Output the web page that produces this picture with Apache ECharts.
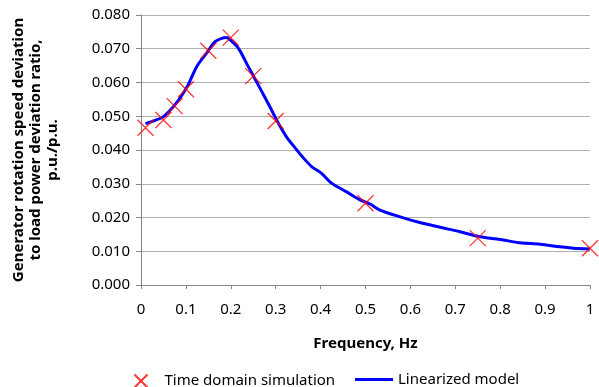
<!DOCTYPE html>
<html><head><meta charset="utf-8">
<script src="https://cdn.jsdelivr.net/npm/echarts@6/dist/echarts.min.js"></script>
<style>html,body{margin:0;padding:0;background:#fff}#c{width:599px;height:387px}</style>
</head><body><div id="c"></div>
<script>
const freqModel = [0.01,0.03,0.05,0.072,0.09,0.105,0.124,0.146,0.165,0.18,0.19,0.198,0.217,0.239,0.261,0.287,0.306,0.324,0.347,0.358,0.38,0.402,0.425,0.458,0.488,0.51,0.532,0.577,0.621,0.666,0.71,0.755,0.8,0.844,0.889,0.933,0.963,1.0];
const valModel  = [0.0478,0.0487,0.0499,0.0528,0.0560,0.0593,0.0647,0.0687,0.0721,0.0731,0.0733,0.0727,0.0701,0.0647,0.0593,0.0528,0.0479,0.0439,0.0400,0.0382,0.0351,0.0331,0.0301,0.0276,0.0252,0.0240,0.0222,0.0202,0.0185,0.0171,0.0158,0.0143,0.0135,0.0125,0.0121,0.0113,0.0109,0.0107];
const freqSim = [0.01,0.05,0.075,0.1,0.15,0.2,0.25,0.3,0.5,0.75,1.0];
const valSim  = [0.0466,0.0489,0.053,0.058,0.0694,0.0733,0.0619,0.0486,0.0242,0.0139,0.0109];
const xTicks = [0,0.1,0.2,0.3,0.4,0.5,0.6,0.7,0.8,0.9,1];
const yTicks = [0,0.01,0.02,0.03,0.04,0.05,0.06,0.07,0.08];
const simName = 'Time domain simulation';
const modelName = 'Linearized model';
const xName = 'Frequency, Hz';
const yName = 'Generator rotation speed deviation\nto load power deviation ratio,\np.u./p.u.';

const FONT = 'Noto Sans';
const xPath = 'path://M0,0L10,10M10,0L0,10';
const chart = echarts.init(document.getElementById('c'));
chart.setOption({
  animation: false,
  textStyle: {fontFamily: FONT},
  grid: {left: 141, right: 9, top: 15, bottom: 102},
  xAxis: {
    type: 'value', min: 0, max: 1, interval: 0.1,
    name: xName, nameLocation: 'middle', nameGap: 51,
    nameTextStyle: {fontFamily: FONT, fontSize: 15, fontWeight: 'bold', color: '#000'},
    axisLine: {show: true, lineStyle: {color: '#868686', width: 1}},
    axisTick: {show: true, length: 4, lineStyle: {color: '#868686'}},
    splitLine: {show: false},
    axisLabel: {margin: 17, fontSize: 15, color: '#000', fontFamily: FONT,
      formatter: v => { const t = xTicks.find(k => Math.abs(k - v) < 1e-9); return t === undefined ? '' : String(t); }}
  },
  yAxis: {
    type: 'value', min: 0, max: 0.08, interval: 0.01,
    name: yName, nameLocation: 'middle', nameRotate: 90, nameGap: 80,
    nameTextStyle: {fontFamily: FONT, fontSize: 15, fontWeight: 'bold', color: '#000', lineHeight: 17, align: 'center'},
    axisLine: {show: true, lineStyle: {color: '#868686', width: 1}},
    axisTick: {show: true, length: 5, lineStyle: {color: '#868686'}},
    splitLine: {show: true, lineStyle: {color: '#b0b0b0', width: 1}},
    axisLabel: {margin: 11, fontSize: 15, color: '#000', fontFamily: FONT,
      formatter: v => { const t = yTicks.find(k => Math.abs(k - v) < 1e-9); return t === undefined ? '' : t.toFixed(3); }}
  },
  legend: [
    {data: [{name: simName, icon: xPath}], left: 127, top: 367, itemWidth: 13, itemHeight: 13,
     textStyle: {fontSize: 15, color: '#000', fontFamily: FONT, padding: [0,0,0,12]}},
    {data: [{name: modelName, icon: 'rect'}], left: 350, top: 367, itemWidth: 38, itemHeight: 3,
     textStyle: {fontSize: 15, color: '#000', fontFamily: FONT}}
  ],
  series: [
    {name: modelName, type: 'line', data: freqModel.map((f, i) => [f, valModel[i]]),
     showSymbol: false, smooth: 0.3, lineStyle: {color: '#0000ff', width: 3}, itemStyle: {color: '#0000ff'}, z: 2},
    {name: simName, type: 'scatter', data: freqSim.map((f, i) => [f, valSim[i]]),
     symbol: xPath, symbolSize: 16,
     itemStyle: {color: 'none', borderColor: '#ff0000', borderWidth: 1.3}, z: 3}
  ]
});
</script></body></html>
